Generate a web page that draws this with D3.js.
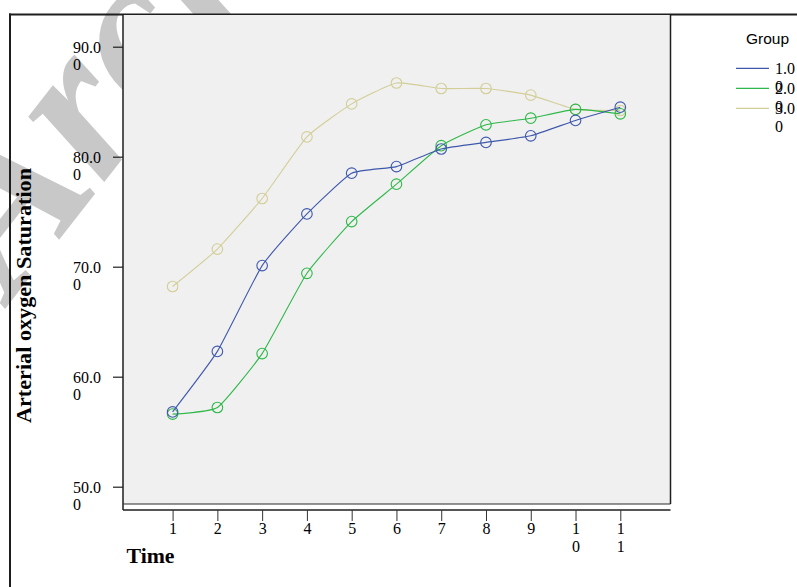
<!DOCTYPE html>
<html>
<head>
<meta charset="utf-8">
<script src="https://cdn.jsdelivr.net/npm/d3@7"></script>
<style>
  html, body { margin: 0; padding: 0; background: #fff; }
  svg { display: block; }
</style>
</head>
<body>
<svg id="chart" width="797" height="587"></svg>
<script>
// ---------- data ----------
const times = [1, 2, 3, 4, 5, 6, 7, 8, 9, 10, 11];
const group1 = [56.8, 62.3, 70.1, 74.8, 78.5, 79.1, 80.7, 81.3, 81.9, 83.3, 84.5];
const group2 = [56.6, 57.2, 62.1, 69.4, 74.1, 77.5, 81.0, 82.9, 83.5, 84.3, 83.9];
const group3 = [68.2, 71.6, 76.2, 81.8, 84.8, 86.7, 86.2, 86.2, 85.6, 84.3, 84.2];
const groupNames = ["1.00", "2.00", "3.00"];
const groupColors = ["#3E58AC", "#2EB848", "#D3CE97"];
const yTicks = [50, 60, 70, 80, 90];
const xTicks = [1, 2, 3, 4, 5, 6, 7, 8, 9, 10, 11];
const yTitle = "Arterial oxygen Saturation";
const xTitle = "Time";
const legendTitle = "Group";
const watermark = "Archive of SID";

const svg = d3.select("#chart");
const serif = "'Liberation Serif', 'Times New Roman', serif";
const sans = "'Liberation Sans', Arial, sans-serif";
const frameColor = "#1e1e1e";

// plot geometry
const plot = { left: 123, right: 670.5, top: 14, bottom: 504 };
const axisY = 510;

const x = d3.scaleLinear().domain([1, 11]).range([172.6, 620.3]);
const y = d3.scaleLinear().domain([50, 90]).range([486.7, 46.7]);

function chunks(str, n) {
  const out = [];
  for (let i = 0; i < str.length; i += n) out.push(str.slice(i, i + n));
  return out;
}

// ---------- watermark ----------
svg.append("text")
  .attr("transform", "translate(12,300) rotate(-52)")
  .attr("font-family", serif)
  .attr("font-weight", "bold")
  .attr("font-style", "italic")
  .attr("font-size", 218)
  .attr("fill", "#c8c8c8")
  .text(watermark);

// ---------- outer frame ----------
svg.append("line").attr("x1", 10).attr("x2", 10).attr("y1", 13.5).attr("y2", 587)
  .attr("stroke", frameColor).attr("stroke-width", 2);
svg.append("line").attr("x1", 9).attr("x2", 797).attr("y1", 14.5).attr("y2", 14.5)
  .attr("stroke", frameColor).attr("stroke-width", 2);

// ---------- plot background ----------
svg.append("rect")
  .attr("x", plot.left).attr("y", plot.top + 1)
  .attr("width", plot.right - plot.left).attr("height", plot.bottom - plot.top - 1)
  .attr("fill", "#f0f0f0");
svg.append("line").attr("x1", plot.left).attr("x2", plot.left).attr("y1", plot.top).attr("y2", axisY)
  .attr("stroke", frameColor).attr("stroke-width", 1.5);
svg.append("line").attr("x1", plot.right).attr("x2", plot.right).attr("y1", plot.top).attr("y2", plot.bottom)
  .attr("stroke", frameColor).attr("stroke-width", 1.5);
svg.append("line").attr("x1", plot.left).attr("x2", plot.right).attr("y1", plot.bottom).attr("y2", plot.bottom)
  .attr("stroke", "#2a2a2a").attr("stroke-width", 1.2);
svg.append("line").attr("x1", plot.left).attr("x2", plot.right).attr("y1", axisY).attr("y2", axisY)
  .attr("stroke", frameColor).attr("stroke-width", 1.5);

// ---------- y axis ----------
const gy = svg.append("g").attr("transform", `translate(${plot.left},0)`)
  .call(d3.axisLeft(y).tickValues(yTicks).tickSize(10).tickFormat(""));
gy.select(".domain").remove();
gy.selectAll(".tick line").attr("stroke", frameColor).attr("stroke-width", 1.2);
gy.selectAll(".tick").each(function(d) {
  const t = d3.select(this).append("text")
    .attr("x", -50).attr("y", 5.6)
    .attr("text-anchor", "start")
    .attr("font-family", serif).attr("font-size", 16).attr("fill", "#000");
  chunks(d.toFixed(2), 4).forEach((s, i) => {
    t.append("tspan").attr("x", -50).attr("dy", i === 0 ? 0 : 17.7).text(s);
  });
});

// ---------- x axis ----------
const gx = svg.append("g").attr("transform", `translate(0,${axisY})`)
  .call(d3.axisBottom(x).tickValues(xTicks).tickSize(11).tickFormat(""));
gx.select(".domain").remove();
gx.selectAll(".tick line").attr("stroke", "#333").attr("stroke-width", 1);
gx.selectAll(".tick").each(function(d) {
  const t = d3.select(this).append("text")
    .attr("x", 0).attr("y", 24)
    .attr("text-anchor", "middle")
    .attr("font-family", serif).attr("font-size", 16).attr("fill", "#000");
  chunks(String(d), 1).forEach((s, i) => {
    t.append("tspan").attr("x", 0).attr("dy", i === 0 ? 0 : 17.7).text(s);
  });
});

// ---------- titles ----------
svg.append("text")
  .attr("transform", "translate(31,295.5) rotate(-90)")
  .attr("text-anchor", "middle")
  .attr("font-family", serif).attr("font-weight", "bold").attr("font-size", 20.5)
  .attr("textLength", 255).attr("lengthAdjust", "spacingAndGlyphs")
  .text(yTitle);
svg.append("text")
  .attr("x", 126.5).attr("y", 563)
  .attr("font-family", serif).attr("font-weight", "bold").attr("font-size", 20.5)
  .attr("textLength", 48).attr("lengthAdjust", "spacingAndGlyphs")
  .text(xTitle);

// ---------- series ----------
const series = [group1, group2, group3];
const line = d3.line().x((d, i) => x(times[i])).y(d => y(d)).curve(d3.curveCardinal.tension(0.55));
const order = [2, 1, 0];
order.forEach(gi => {
  const vals = series[gi];
  const g = svg.append("g");
  g.append("path").datum(vals)
    .attr("d", line)
    .attr("fill", "none")
    .attr("stroke", groupColors[gi])
    .attr("stroke-width", 1.1);
  g.selectAll("circle").data(vals).join("circle")
    .attr("cx", (d, i) => x(times[i]))
    .attr("cy", d => y(d))
    .attr("r", 5.3)
    .attr("fill", "none")
    .attr("stroke", groupColors[gi])
    .attr("stroke-width", 1.1);
});

// ---------- legend ----------
svg.append("text")
  .attr("x", 746).attr("y", 44)
  .attr("font-family", sans).attr("font-size", 15.5)
  .text(legendTitle);
groupNames.forEach((name, i) => {
  const ly = 68.3 + i * 20;
  svg.append("line")
    .attr("x1", 736).attr("x2", 769).attr("y1", ly).attr("y2", ly)
    .attr("stroke", groupColors[i]).attr("stroke-width", 1.3);
  const t = svg.append("text")
    .attr("x", 775).attr("y", ly + 5.7)
    .attr("font-family", serif).attr("font-size", 16).attr("fill", "#000");
  chunks(name, 3).forEach((s, k) => {
    t.append("tspan").attr("x", 775).attr("dy", k === 0 ? 0 : 17.7).text(s);
  });
});
</script>
</body>
</html>
